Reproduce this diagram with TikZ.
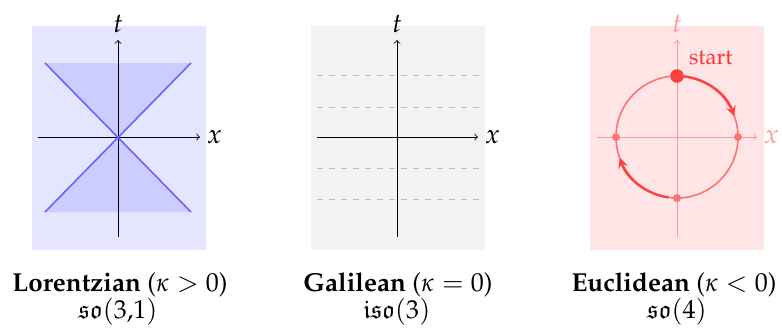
\documentclass[tikz,border=0pt]{standalone}
\usepackage[T1]{fontenc}
\usepackage{mathpazo}
\usepackage{amssymb}
\begin{document}
\begin{tikzpicture}[x=0.5pt, y=0.5pt, font=\fontsize{13.5}{16}\selectfont]
    \useasboundingbox (0,0) rectangle (782,328);

    % Lorentzian panel: light cone
    \fill[blue!10] (32,78) rectangle (206,302);
    \fill[blue!20] (45,265) -- (191,265) -- (118,191) -- cycle;
    \fill[blue!20] (45,116) -- (191,116) -- (118,191) -- cycle;
    \draw[->] (38,191) -- (200,191) node[right] (lx) {$x$};
    \draw[->] (118,91) -- (118,288) node[above] (lt) {$t$};
    \draw[blue!60, thick] (45,265) -- (191,116);
    \draw[blue!60, thick] (45,116) -- (191,265);

    % Galilean panel: absolute time slices
    \fill[black!5] (311,78) rectangle (485,302);
    \foreach \y in {253,221,160,129} \draw[gray!50, dashed] (317,\y) -- (479,\y);
    \draw[->] (317,191) -- (478,191) node[right] (gx) {$x$};
    \draw[->] (397,91) -- (397,288) node[above] (gt) {$t$};

    % Euclidean panel: time runs round a circle
    \fill[red!10] (590,78) rectangle (764,302);
    \draw[->, red!40] (597,191) -- (757,191) node[right] (ex) {$x$};
    \draw[->, red!40] (677,91) -- (677,288) node[above] (et) {$t$};
    \draw[red!55, thick] (677,191) circle (61);
    \draw[red!75, very thick, -stealth] (677,191) ++(86:61) arc (86:20:61);
    \draw[red!75, very thick, -stealth] (677,191) ++(262:61) arc (262:200:61);
    \node[fill=red!75, circle, inner sep=2.4pt] (top) at (677,252) {};
    \node[fill=red!55, circle, inner sep=1.4pt] (right) at (738,191) {};
    \node[fill=red!55, circle, inner sep=1.4pt] (left) at (616,191) {};
    \node[fill=red!55, circle, inner sep=1.4pt] (bottom) at (677,130) {};
    \node[red!80, anchor=west, font=\fontsize{11}{13}\selectfont] (start) at (682,270) {start};

    % Labels underneath
    \tikzset{caption/.style={anchor=base, inner sep=0pt, font=\fontsize{13}{15}\selectfont}}
    \node[caption] (lor) at (120,37) {\textbf{Lorentzian} ($\kappa>0$)};
    \node[caption] (lora) at (118,10) {$\mathfrak{so}(3{,}1)$};
    \node[caption] (gal) at (398,37) {\textbf{Galilean} ($\kappa=0$)};
    \node[caption] (gala) at (397,10) {$\mathfrak{iso}(3)$};
    \node[caption] (euc) at (674,37) {\textbf{Euclidean} ($\kappa<0$)};
    \node[caption] (euca) at (677,10) {$\mathfrak{so}(4)$};
\end{tikzpicture}
\end{document}
